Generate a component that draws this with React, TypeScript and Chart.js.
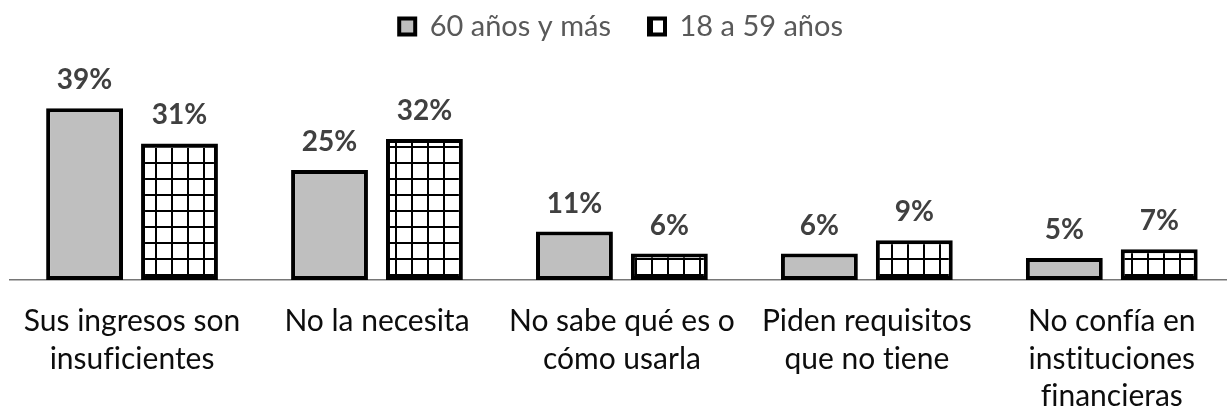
import React, { useEffect, useRef } from "react";
import { Chart, registerables } from "chart.js";

Chart.register(...registerables);

const categories: string[][] = [
  ["Sus ingresos son", "insuficientes"],
  ["No la necesita"],
  ["No sabe qué es o", "cómo usarla"],
  ["Piden requisitos", "que no tiene"],
  ["No confía en", "instituciones", "financieras"],
];
const seriesNames = ["60 años y más", "18 a 59 años"];
const olderValues = [39, 25, 11, 6, 5];
const youngerValues = [31, 32, 6, 9, 7];
const yMax = 52;

const FONT = "Lato, 'Open Sans', sans-serif";

const noLigaturePlugin = {
  id: "noLigatures",
  beforeDraw(chart: any) {
    const ctx = chart.ctx;
    try {
      ctx.textRendering = "optimizeSpeed";
    } catch (e) {}
  },
};

const valueLabelPlugin = {
  id: "valueLabels",
  afterDatasetsDraw(chart: any) {
    const ctx = chart.ctx;
    ctx.save();
    ctx.font = `bold 28px ${FONT}`;
    ctx.fillStyle = "#404040";
    ctx.textAlign = "center";
    ctx.textBaseline = "alphabetic";
    chart.data.datasets.forEach((ds: any, i: number) => {
      chart.getDatasetMeta(i).data.forEach((bar: any, j: number) => {
        ctx.fillText(`${ds.data[j]}%`, bar.x, bar.y - 19);
      });
    });
    ctx.restore();
  },
};

const legendHeightPlugin = {
  id: "legendHeight",
  beforeInit(chart: any) {
    const lg = chart.legend;
    if (!lg) return;
    const fit = lg.fit;
    lg.fit = function () {
      fit.call(this);
      this.height = 51;
    };
    const draw = lg.draw;
    lg.draw = function () {
      const t = this.top;
      this.top = t - 26;
      draw.call(this);
      this.top = t;
    };
  },
};

export default function App() {
  const canvasRef = useRef<HTMLCanvasElement | null>(null);

  useEffect(() => {
    const canvas = canvasRef.current;
    if (!canvas) return;
    const ctx = canvas.getContext("2d")!;
    const tile = document.createElement("canvas");
    tile.width = 16;
    tile.height = 16;
    const g = tile.getContext("2d")!;
    g.fillStyle = "#ffffff";
    g.fillRect(0, 0, 16, 16);
    g.fillStyle = "#000000";
    g.fillRect(11, 0, 2, 16);
    g.fillRect(0, 2, 16, 2);
    const grid = ctx.createPattern(tile, "repeat")!;

    const chart = new Chart(canvas, {
      type: "bar",
      data: {
        labels: categories,
        datasets: [
          {
            label: seriesNames[0],
            data: olderValues,
            backgroundColor: "#bfbfbf",
            borderColor: "#000000",
            borderWidth: 4,
            borderSkipped: false,
            categoryPercentage: 0.775,
            barPercentage: 0.81,
          },
          {
            label: seriesNames[1],
            data: youngerValues,
            backgroundColor: grid as any,
            borderColor: "#000000",
            borderWidth: 4,
            borderSkipped: false,
            categoryPercentage: 0.775,
            barPercentage: 0.81,
          },
        ],
      },
      options: {
        responsive: false,
        animation: false,
        devicePixelRatio: 1,
        layout: { padding: { left: 8, right: 5.75, top: 0, bottom: 0 } },
        plugins: {
          tooltip: { enabled: false },
          legend: {
            display: true,
            position: "top",
            labels: {
              boxWidth: 16,
              boxHeight: 16,
              padding: 38,
              color: "#595959",
              font: { family: FONT, size: 29 },
            },
          },
        },
        scales: {
          x: {
            grid: { display: false, drawTicks: false },
            border: { display: true, color: "#767676", width: 1.5 },
            ticks: {
              color: "#0d0d0d",
              padding: 23,
              maxRotation: 0,
              autoSkip: false,
              font: { family: FONT, size: 30, lineHeight: 1.25 },
            },
            afterFit(scale: any) {
              scale.height = 160;
            },
          },
          y: {
            display: false,
            min: 0,
            max: yMax,
          },
        },
      },
      plugins: [noLigaturePlugin, valueLabelPlugin, legendHeightPlugin],
    });
    return () => chart.destroy();
  }, []);

  return (
    <div
      style={{
        position: "fixed",
        left: 0,
        top: 0,
        width: 1227,
        height: 412,
        overflow: "hidden",
        background: "#ffffff",
      }}
    >
      <canvas
        ref={canvasRef}
        width={1240}
        height={440}
        style={{ width: 1240, height: 440, display: "block" }}
      />
    </div>
  );
}
